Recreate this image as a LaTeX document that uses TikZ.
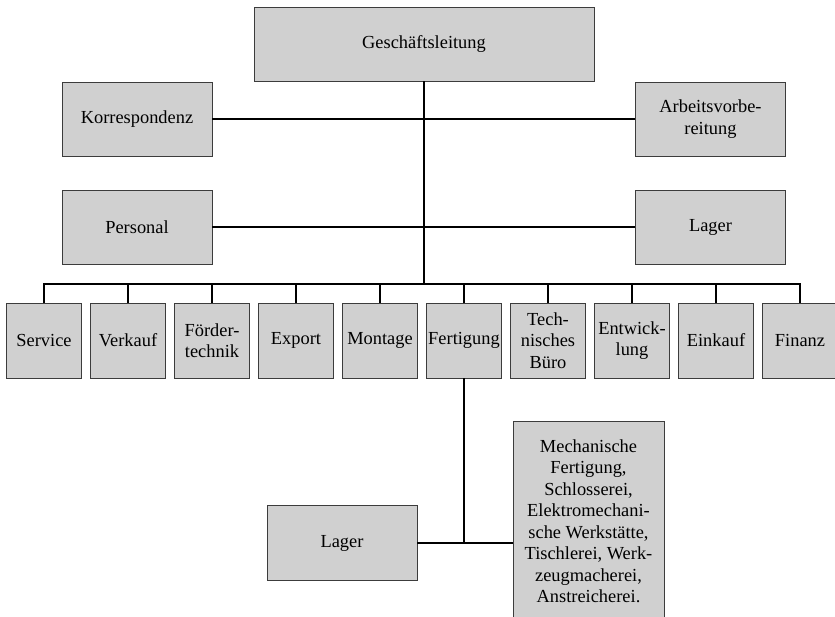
\documentclass[tikz,border=0pt]{standalone}
\usepackage{fontspec}
\setmainfont{Liberation Serif}
\definecolor{boxfill}{RGB}{208,208,208}
\definecolor{boxline}{RGB}{60,60,60}
\tikzset{
  unit/.style={draw=boxline, line width=0.9pt, fill=boxfill, inner sep=0pt, align=center,
    font=\fontsize{18.4}{21.5}\selectfont},
  bigbox/.style={unit, minimum width=150pt, minimum height=74pt},
  smallbox/.style={unit, minimum width=75pt, minimum height=75pt},
  conn/.style={line width=1.8pt, black}
}
\begin{document}
\begin{tikzpicture}[x=1pt,y=-1pt]
\useasboundingbox (0,0) rectangle (835,617);
\node[unit, minimum width=340pt, minimum height=74pt] (gl) at (424,44) {Geschäftsleitung};
\node[bigbox] (korr) at (137,119) {Korrespondenz};
\node[bigbox] (arb) at (710.5,119) {Arbeitsvorbe-\\reitung};
\node[bigbox] (pers) at (137,227) {Personal};
\node[bigbox] (lagerA) at (710.5,227) {Lager};
\foreach \i/\t in {0/Service,1/Verkauf,2/{Förder-\\technik},3/Export,4/Montage,5/Fertigung,6/{Tech-\\nisches\\Büro},7/{Entwick-\\lung},8/Einkauf,9/Finanz}{
  \node[smallbox] (s\i) at ({44+84*\i},340.5) {\t};
}
\node[unit, minimum width=150pt, minimum height=75pt] (lagerB) at (342,543) {Lager};
\node[unit, minimum width=151pt, minimum height=200pt] (mech) at (588.5,521) {Mechanische\\Fertigung,\\Schlosserei,\\Elektromechani-\\sche Werkstätte,\\Tischlerei, Werk-\\zeugmacherei,\\Anstreicherei.};
\coordinate (bus) at (424,284);
\draw[conn] (gl.south) -- (bus);
\draw[conn] (korr.east) -- (arb.west);
\draw[conn] (pers.east) -- (lagerA.west);
\draw[conn] (s0.north) |- (bus) -| (s9.north);
\foreach \i in {1,...,8}{
  \draw[conn] (s\i.north) -- (s\i.north |- bus);
}
\draw[conn] (s5.south) -- (s5.south |- lagerB.east);
\draw[conn] (lagerB.east) -- (mech.west |- lagerB.east);
\end{tikzpicture}
\end{document}
